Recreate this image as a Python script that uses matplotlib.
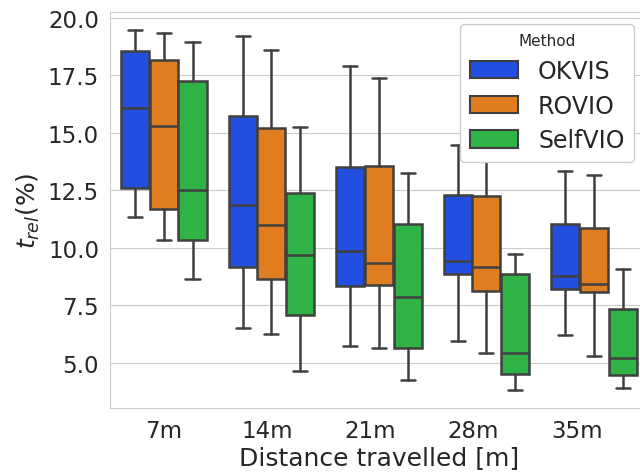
import numpy as np
import matplotlib
matplotlib.use("Agg")
import matplotlib.pyplot as plt
import matplotlib.patches as mpatches
from matplotlib.ticker import MultipleLocator
import seaborn as sns

# Relative translation error per segment length, box statistics per method
distances = ["7m", "14m", "21m", "28m", "35m"]
methods = ["OKVIS", "ROVIO", "SelfVIO"]

okvis_whislo = [11.33, 6.50, 5.74, 5.96, 6.19]
okvis_q1 = [12.60, 9.15, 8.35, 8.84, 8.22]
okvis_med = [16.08, 11.86, 9.86, 9.44, 8.76]
okvis_q3 = [18.53, 15.72, 13.53, 12.31, 11.05]
okvis_whishi = [19.46, 19.19, 17.88, 14.45, 13.33]

rovio_whislo = [10.35, 6.26, 5.65, 5.44, 5.28]
rovio_q1 = [11.70, 8.66, 8.37, 8.14, 8.08]
rovio_med = [15.29, 10.97, 9.35, 9.15, 8.44]
rovio_q3 = [18.14, 15.20, 13.57, 12.25, 10.85]
rovio_whishi = [19.35, 18.60, 17.38, 14.60, 13.14]

selfvio_whislo = [8.63, 4.66, 4.25, 3.82, 3.90]
selfvio_q1 = [10.32, 7.10, 5.64, 4.52, 4.48]
selfvio_med = [12.50, 9.67, 7.85, 5.43, 5.19]
selfvio_q3 = [17.25, 12.39, 11.04, 8.86, 7.34]
selfvio_whishi = [18.96, 15.23, 13.24, 9.71, 9.09]

stats = {
    "OKVIS": (okvis_whislo, okvis_q1, okvis_med, okvis_q3, okvis_whishi),
    "ROVIO": (rovio_whislo, rovio_q1, rovio_med, rovio_q3, rovio_whishi),
    "SelfVIO": (selfvio_whislo, selfvio_q1, selfvio_med, selfvio_q3, selfvio_whishi),
}

sns.set_style("whitegrid")
plt.rcParams["font.family"] = ["DejaVu Sans"]

colors = [sns.desaturate(c, 0.75) for c in sns.color_palette("bright", 3)]
line_color = "#3f3f3f"

fig = plt.figure(figsize=(6.4, 4.77), dpi=100)
ax = fig.add_axes([0.172, 0.1426, 0.84, 0.830])

group_w = 0.8
box_w = group_w / len(methods)
for j, m in enumerate(methods):
    lo, q1, med, q3, hi = stats[m]
    bxp_stats = [
        dict(whislo=lo[i], q1=q1[i], med=med[i], q3=q3[i], whishi=hi[i], fliers=[])
        for i in range(len(distances))
    ]
    pos = np.arange(len(distances)) - group_w / 2 + box_w * (j + 0.5)
    ax.bxp(
        bxp_stats, positions=pos, widths=box_w * 0.98, patch_artist=True,
        showfliers=False, manage_ticks=False,
        boxprops=dict(facecolor=colors[j], edgecolor=line_color, linewidth=1.8),
        medianprops=dict(color=line_color, linewidth=1.8),
        whiskerprops=dict(color=line_color, linewidth=1.8),
        capprops=dict(color=line_color, linewidth=1.8),
    )

ax.set_xlim(-0.5, 4.5)
ax.set_ylim(3.04, 20.24)
ax.yaxis.set_major_locator(MultipleLocator(2.5))
ax.set_xticks(np.arange(len(distances)) * 0.96)
ax.set_xticklabels(distances)
ax.xaxis.grid(False)
ax.tick_params(labelsize=16.5, length=0, pad=8)
for s in ax.spines.values():
    s.set_color("#cccccc")

ax.set_xlabel("Distance travelled [m]", fontsize=18, labelpad=2)
ax.set_ylabel(r"$t_{rel}(\%)$", fontsize=18)

handles = [mpatches.Patch(facecolor=colors[j], edgecolor=line_color, linewidth=1.5, label=m)
           for j, m in enumerate(methods)]
ax.legend(handles=handles, title="Method", fontsize=17, title_fontsize=11,
          loc="upper right", bbox_to_anchor=(634 / 640, 1 - 25 / 477),
          bbox_transform=fig.transFigure, borderaxespad=0,
          handlelength=2.05, handleheight=0.75, handletextpad=0.85,
          labelspacing=0.45, framealpha=1.0)

fig.savefig("out.png", dpi=100)
